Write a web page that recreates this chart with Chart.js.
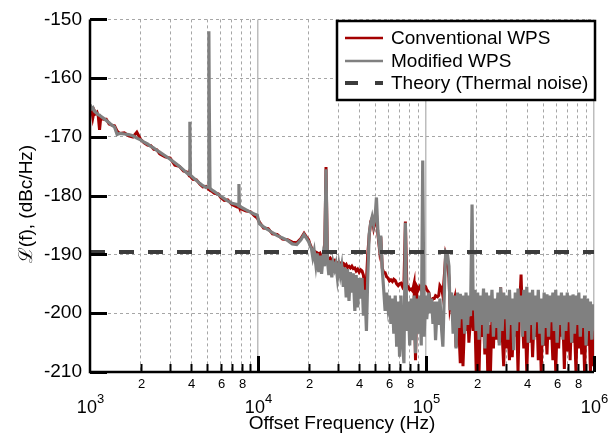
<!DOCTYPE html>
<html>
<head>
<meta charset="utf-8">
<script src="https://cdn.jsdelivr.net/npm/chart.js@4.4.1/dist/chart.umd.min.js"></script>
<style>
  html, body { margin: 0; padding: 0; background: #fff; }
  #wrap { width: 616px; height: 433px; }
</style>
</head>
<body>
<div id="wrap"><canvas id="chart" width="616" height="433"></canvas></div>
<script>
// offset frequency in kHz (shared by both measured traces)
const freqKHz = [
  // 1 kHz .. 20 kHz
  1, 1.02, 1.04, 1.06, 1.08, 1.1, 1.12, 1.14, 1.16, 1.2,
  1.25, 1.3, 1.35, 1.4, 1.45, 1.5, 1.6, 1.7, 1.8, 1.9,
  2, 2.1, 2.2, 2.3, 2.4, 2.5, 2.6, 2.8, 3, 3.2,
  3.4, 3.6, 3.8, 3.9, 3.93, 3.96, 4.1, 4.3, 4.5, 4.7,
  4.9, 5.05, 5.1, 5.13, 5.18, 5.3, 5.5, 5.8, 6, 6.3,
  6.6, 7, 7.5, 7.65, 7.7, 7.75, 8, 8.5, 9, 9.5,
  9.9, 10.2, 10.8, 11.5, 12.2, 13, 14, 15, 16, 17,
  18, 18.8, 19.4,
  // 20 kHz .. 1 MHz
  20, 20.4, 20.8, 21.2, 21.6, 22.1, 22.5, 23, 23.4, 23.9,
  24.4, 24.9, 25.4, 25.9, 26.4, 26.9, 27.5, 28, 28.6, 29.1,
  29.7, 30.3, 30.9, 31.5, 32.2, 32.8, 33.5, 34.1, 34.8, 35.5,
  36.2, 36.9, 37.7, 38.4, 39.2, 40, 40.8, 41.6, 42.4, 43.3,
  44.2, 45, 45.9, 46.9, 47.8, 48.8, 49.7, 50.7, 51.7, 52.8,
  53.8, 54.9, 56, 57.1, 58.3, 59.4, 60.6, 61.8, 63.1, 64.3,
  65.6, 66.9, 68.3, 69.6, 71, 72.5, 73.9, 75.4, 76.9, 78.4,
  80, 81.6, 83.2, 84.9, 86.6, 88.3, 90.1, 91.9, 93.7, 95.6,
  97.5, 99.5, 101, 104, 106, 108, 110, 112, 114, 117,
  119, 121, 124, 126, 129, 131, 134, 137, 139, 142,
  145, 148, 151, 154, 157, 160, 163, 166, 170, 173,
  177, 180, 184, 188, 191, 195, 199, 203, 207, 211,
  215, 220, 224, 229, 233, 238, 242, 247, 252, 257,
  262, 268, 273, 278, 284, 290, 296, 301, 307, 314,
  320, 326, 333, 340, 346, 353, 360, 368, 375, 382,
  390, 398, 406, 414, 422, 431, 439, 448, 457, 466,
  476, 485, 495, 505, 515, 525, 536, 547, 557, 569,
  580, 592, 603, 616, 628, 640, 653, 666, 680, 693,
  707, 721, 736, 750, 765, 781, 796, 812, 829, 845,
  862, 879, 897, 915, 933, 952, 971, 990, 1000
];

// Conventional WPS, dBc/Hz
const conventionalDb = [
  -164.8, -165.0, -166.7, -165.5, -166.0, -165.8, -166.5, -168.8, -166.6, -167.0,
  -167.0, -167.8, -168.0, -168.1, -169.0, -169.4, -169.3, -169.8, -170.0, -169.2,
  -170.4, -171.0, -171.4, -171.5, -172.1, -172.2, -172.9, -173.4, -173.6, -174.8,
  -175.0, -175.8, -176.0, -176.6, -176.5, -176.7, -177.2, -177.3, -178.0, -178.5,
  -178.4, -178.8, -178.9, -178.9, -179.0, -179.2, -179.6, -179.7, -180.3, -180.8,
  -180.7, -181.5, -181.9, -181.6, -181.8, -182.0, -182.3, -182.6, -182.7, -183.4,
  -183.8, -184.5, -185.5, -185.6, -186.5, -186.6, -187.4, -187.5, -187.9, -188.0,
  -187.3, -186.4, -187.0,
  -187.5, -188.3, -188.8, -189.2, -189.4, -189.6, -189.7, -190.0, -189.8, -190.4,
  -190.3, -190.5, -175.1, -190.6, -190.8, -190.6, -191.0, -191.2, -191.0, -191.3,
  -191.5, -191.3, -191.6, -191.4, -191.5, -192.0, -191.7, -192.2, -192.0, -192.3,
  -192.0, -192.4, -192.3, -192.8, -192.5, -193.0, -192.6, -192.8, -193.5, -195.9,
  -194.5, -190.0, -186.8, -184.4, -183.8, -185.5, -184.5, -183.0, -186.5, -189.0,
  -187.0, -192.3, -193.1, -193.1, -193.8, -194.0, -194.5, -194.3, -194.6, -194.2,
  -194.4, -195.0, -195.3, -195.0, -194.9, -195.5, -195.0, -184.4, -195.3, -195.5,
  -196.0, -195.9, -196.2, -195.0, -208.0, -195.5, -196.0, -195.5, -196.0, -195.0,
  -195.3, -195.5, -196.0, -196.5, -197.9, -197.9, -197.5, -197.5, -197.0, -197.2,
  -197.0, -195.3, -195.8, -197.0, -193.0, -190.0, -191.0, -194.0, -199.0, -197.5,
  -198.4, -197.4, -205.8, -199.0, -203.0, -208.5, -200.0, -209.0, -201.0, -203.0,
  -199.5, -205.0, -201.0, -200.0, -203.0, -199.0, -210.0, -201.5, -210.0, -200.0,
  -204.0, -201.0, -207.0, -199.5, -210.0, -202.0, -210.0, -200.5, -206.0, -199.0,
  -204.5, -201.0, -205.0, -195.6, -203.5, -209.0, -200.0, -206.0, -202.5, -208.0,
  -200.0, -207.5, -201.0, -204.0, -200.5, -210.0, -199.5, -193.4, -201.0, -206.0,
  -200.5, -210.0, -202.0, -205.0, -200.0, -207.5, -201.5, -204.0, -199.5, -208.0,
  -201.0, -210.0, -200.5, -205.5, -202.0, -207.0, -200.0, -204.5, -201.5, -208.0,
  -200.5, -210.0, -202.0, -206.0, -200.0, -204.0, -201.0, -209.5, -200.5, -206.5,
  -201.5, -208.0, -200.0, -205.0, -202.0, -210.0, -201.0, -206.0, -200.5, -207.0,
  -202.0, -210.0, -201.0, -205.5, -200.5, -210.0, -202.0, -209.0, -203.0
];

// Modified WPS, dBc/Hz
const modifiedDb = [
  -164.5, -165.2, -165.0, -165.6, -165.8, -166.0, -166.2, -166.3, -166.5, -166.8,
  -167.2, -167.6, -168.0, -168.3, -169.6, -169.4, -169.5, -169.6, -169.8, -170.2,
  -170.5, -170.9, -171.2, -171.6, -171.9, -172.3, -172.6, -173.2, -173.8, -174.4,
  -175.0, -175.6, -176.2, -176.4, -167.4, -176.5, -176.9, -177.4, -177.9, -178.3,
  -178.6, -178.5, -152.0, -164.5, -178.7, -179.0, -179.3, -179.8, -180.1, -180.5,
  -180.9, -181.3, -181.5, -181.7, -178.0, -181.8, -182.0, -182.4, -182.8, -183.1,
  -183.3, -184.8, -185.3, -185.8, -186.3, -186.8, -187.2, -187.6, -188.2, -188.3,
  -187.5, -186.6, -187.2,
  -187.8, -188.5, -189.0, -190.5, -189.4, -191.8, -189.8, -193.0, -190.2, -193.3,
  -190.5, -192.0, -175.5, -191.0, -193.5, -191.0, -193.9, -191.4, -192.5, -191.6,
  -194.0, -191.8, -193.5, -192.0, -195.5, -192.2, -197.3, -192.5, -197.9, -193.0,
  -196.5, -193.2, -199.6, -193.5, -199.0, -194.0, -197.5, -194.0, -200.4, -196.0,
  -203.0, -194.0, -186.5, -184.6, -183.6, -185.0, -183.8, -180.3, -186.0, -188.5,
  -186.8, -192.5, -196.0, -199.6, -196.5, -199.0, -197.0, -201.8, -197.5, -203.5,
  -197.0, -205.7, -198.0, -207.4, -197.0, -205.0, -208.5, -184.6, -203.0, -198.0,
  -205.5, -197.5, -204.6, -197.0, -206.8, -197.5, -203.5, -197.0, -205.5, -174.0,
  -204.0, -197.0, -201.0, -196.5, -200.0, -197.5, -201.8, -198.0, -204.6, -198.0,
  -202.0, -197.5, -203.0, -205.7, -195.0, -189.5, -189.8, -192.0, -199.5, -196.5,
  -203.5, -197.0, -206.0, -196.5, -202.5, -196.7, -201.0, -197.0, -203.5, -196.5,
  -202.0, -197.0, -200.5, -181.5, -199.5, -196.0, -203.0, -196.5, -204.5, -197.0,
  -202.0, -195.8, -206.0, -196.5, -203.5, -197.0, -201.5, -196.0, -204.0, -197.5,
  -202.5, -196.5, -205.5, -195.6, -203.0, -196.5, -201.0, -197.0, -204.5, -196.0,
  -202.0, -197.5, -206.3, -196.5, -203.0, -195.8, -201.5, -197.0, -204.0, -196.0,
  -203.0, -195.5, -205.0, -196.5, -202.0, -196.0, -204.5, -197.0, -201.5, -196.0,
  -203.5, -197.5, -205.5, -196.5, -202.5, -196.8, -204.0, -197.0, -201.5, -196.5,
  -203.0, -196.0, -205.0, -197.0, -202.0, -196.5, -204.5, -197.0, -203.0, -196.5,
  -201.5, -197.0, -205.0, -196.8, -203.5, -197.0, -202.0, -196.5, -204.0, -197.5,
  -202.5, -197.0, -205.5, -197.5, -203.0, -198.0, -204.5, -198.5, -202.0
];

// theory (thermal noise floor)
const theoryKHz = [1, 1000];
const theoryDb = [-189.6, -189.6];

const seriesNames = ["Conventional WPS", "Modified WPS", "Theory (Thermal noise)"];
const seriesColors = ["#a40000", "#808080", "#3c3c3c"];

// axis ticks
const xDecades = [1e3, 1e4, 1e5, 1e6];
const xDecadeExp = ["3", "4", "5", "6"];
const xMinorSteps = [2, 3, 4, 5, 6, 7, 8, 9];
const xMinorLabels = ["2", "", "4", "", "6", "", "8", ""];
const yTicks = [-210, -200, -190, -180, -170, -160, -150];

const FONT = "'Liberation Sans', Arial, sans-serif";
Chart.defaults.font.family = FONT;

const toPoints = (fs, vs) => fs.map((f, i) => ({ x: f * 1000, y: vs[i] }));
const isDecade = (v) => xDecades.includes(v);

// axes, inward ticks, x labels, titles and boxed legend
const decorPlugin = {
  id: "decor",
  afterDraw(chart) {
    const { ctx, chartArea: a, scales } = chart;
    const x = scales.x, y = scales.y;
    ctx.save();
    ctx.strokeStyle = "#000";
    ctx.fillStyle = "#000";

    // y ticks pointing right
    ctx.lineWidth = 3;
    yTicks.forEach((v) => {
      const py = Math.round(y.getPixelForValue(v)) + 0.5;
      ctx.beginPath();
      ctx.moveTo(a.left, py);
      ctx.lineTo(a.left + 17, py);
      ctx.stroke();
    });

    // x ticks pointing up + labels
    xDecades.forEach((d, k) => {
      const px = Math.round(x.getPixelForValue(d)) + 0.5;
      if (k > 0) {
        ctx.lineWidth = 3;
        ctx.beginPath();
        ctx.moveTo(px, a.bottom);
        ctx.lineTo(px, a.bottom - 16);
        ctx.stroke();
      }
      // 10^n label
      ctx.font = "18px " + FONT;
      const w10 = ctx.measureText("10").width;
      ctx.font = "13px " + FONT;
      const wExp = ctx.measureText(xDecadeExp[k]).width;
      const left = px - (w10 + wExp) / 2;
      ctx.textAlign = "left";
      ctx.textBaseline = "alphabetic";
      ctx.font = "18px " + FONT;
      ctx.fillText("10", left, 413);
      ctx.font = "13px " + FONT;
      ctx.fillText(xDecadeExp[k], left + w10, 403);

      if (k < xDecades.length - 1) {
        xMinorSteps.forEach((m, j) => {
          const mx = Math.round(x.getPixelForValue(m * d)) + 0.5;
          ctx.lineWidth = 2;
          ctx.beginPath();
          ctx.moveTo(mx, a.bottom);
          ctx.lineTo(mx, a.bottom - 8);
          ctx.stroke();
          if (xMinorLabels[j]) {
            ctx.font = "13px " + FONT;
            ctx.textAlign = "center";
            ctx.textBaseline = "middle";
            ctx.fillText(xMinorLabels[j], mx, 384);
          }
        });
      }
    });

    // axis lines
    ctx.lineWidth = 2.5;
    ctx.beginPath();
    ctx.moveTo(a.left, a.top);
    ctx.lineTo(a.left, a.bottom);
    ctx.lineTo(a.right, a.bottom);
    ctx.stroke();

    // axis titles
    ctx.font = "19px " + FONT;
    ctx.textAlign = "center";
    ctx.textBaseline = "alphabetic";
    ctx.fillText("Offset Frequency (Hz)", (a.left + a.right) / 2, 429);
    ctx.save();
    ctx.translate(27, 204);
    ctx.rotate(-Math.PI / 2);
    ctx.textBaseline = "middle";
    ctx.fillText("\u2112(f), (dBc/Hz)", 0, 0);
    ctx.restore();

    // legend box
    const bx = 337, by = 21, bw = 258, bh = 79;
    ctx.fillStyle = "#fff";
    ctx.fillRect(bx, by, bw, bh);
    ctx.lineWidth = 2.5;
    ctx.strokeStyle = "#000";
    ctx.strokeRect(bx, by, bw, bh);
    const rows = [38, 61, 83];
    ctx.font = "19px " + FONT;
    ctx.textAlign = "left";
    ctx.textBaseline = "middle";
    rows.forEach((ry, i) => {
      ctx.strokeStyle = seriesColors[i];
      ctx.lineWidth = i === 2 ? 4 : 2.5;
      ctx.setLineDash(i === 2 ? [13, 17] : []);
      ctx.beginPath();
      ctx.moveTo(345, ry);
      ctx.lineTo(383, ry);
      ctx.stroke();
      ctx.setLineDash([]);
      ctx.fillStyle = "#000";
      ctx.fillText(seriesNames[i], 391, ry + 1);
    });
    ctx.restore();
  }
};

new Chart(document.getElementById("chart"), {
  type: "line",
  data: {
    datasets: [
      {
        label: seriesNames[0],
        data: toPoints(freqKHz, conventionalDb),
        borderColor: seriesColors[0],
        borderWidth: 3,
        pointRadius: 0,
        tension: 0,
        order: 2
      },
      {
        label: seriesNames[1],
        data: toPoints(freqKHz, modifiedDb),
        borderColor: seriesColors[1],
        borderWidth: 3.2,
        pointRadius: 0,
        tension: 0,
        order: 1
      },
      {
        label: seriesNames[2],
        data: toPoints(theoryKHz, theoryDb),
        borderColor: seriesColors[2],
        borderWidth: 4,
        borderDash: [15, 14],
        pointRadius: 0,
        tension: 0,
        order: 0
      }
    ]
  },
  options: {
    responsive: false,
    animation: false,
    devicePixelRatio: 1,
    layout: { padding: { left: 0, top: 16, right: 22, bottom: 0 } },
    plugins: { legend: { display: false }, tooltip: { enabled: false } },
    scales: {
      x: {
        type: "logarithmic",
        min: 1000,
        max: 1e6,
        afterFit: (s) => { s.height = 61; },
        afterBuildTicks: (s) => {
          const t = [];
          xDecades.forEach((d, k) => {
            t.push({ value: d, major: true });
            if (k < xDecades.length - 1) xMinorSteps.forEach((m) => t.push({ value: m * d, major: false }));
          });
          s.ticks = t;
        },
        ticks: { display: false },
        grid: {
          drawTicks: false,
          color: (c) => (c.tick && isDecade(c.tick.value) ? "#bdbdbd" : "#a6a6a6"),
          lineWidth: (c) => (c.tick && isDecade(c.tick.value) ? 1.5 : 1)
        },
        border: {
          display: false,
          dash: (c) => (c.tick && isDecade(c.tick.value) ? [] : [3, 3])
        }
      },
      y: {
        min: -210,
        max: -150,
        afterFit: (s) => { s.width = 90; },
        afterBuildTicks: (s) => { s.ticks = yTicks.map((v) => ({ value: v })); },
        ticks: { color: "#000", font: { size: 19 }, padding: 8 },
        grid: { drawTicks: false, color: "#a6a6a6", lineWidth: 1 },
        border: { display: false, dash: [3, 3] }
      }
    }
  },
  plugins: [decorPlugin]
});
</script>
</body>
</html>
